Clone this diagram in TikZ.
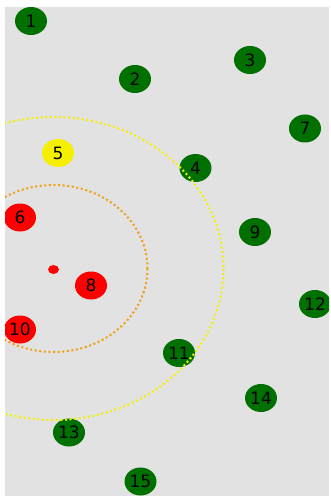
\documentclass[tikz,border=0pt]{standalone}
\usepackage{fontspec}
\setmainfont{DejaVu Sans}
\usetikzlibrary{shapes.geometric}
\definecolor{bg}{RGB}{226,226,226}
\definecolor{dgreen}{RGB}{0,112,0}
\definecolor{dred}{RGB}{255,0,0}
\definecolor{dyel}{RGB}{245,240,0}
\definecolor{dorange}{RGB}{240,160,20}
\tikzset{
  pt/.style={ellipse, minimum width=32pt, minimum height=28pt, inner sep=0pt,
    font=\fontsize{17}{20}\selectfont, text=black},
  gpt/.style={pt, fill=dgreen},
  rpt/.style={pt, fill=dred},
  ypt/.style={pt, fill=dyel},
  ring/.style={line width=2pt, dash pattern=on 2pt off 2.6pt},
}
\begin{document}
\begin{tikzpicture}[x=1pt,y=-1pt]
\useasboundingbox (0,0) rectangle (331,497);
\fill[white] (0,0) rectangle (331,497);
\fill[bg] (5,7) rectangle (329,496);
\begin{scope}
\clip (5,7) rectangle (329,496);
\draw[ring, dorange] (53.5,268.5) ellipse [x radius=94, y radius=83.5];
\node[rpt] (c) at (53.5,269.5) [minimum width=11pt, minimum height=9pt] {};
\node[gpt] (n1) at (31,21) {1};
\node[gpt] (n2) at (135,79) {2};
\node[gpt] (n3) at (250,60) {3};
\node[gpt] (n4) at (195.5,168) {4};
\node[ypt] (n5) at (58,153) {5};
\node[rpt] (n6) at (20,217.5) {6};
\node[gpt] (n7) at (305,128.5) {7};
\node[rpt] (n8) at (91,285.5) {8};
\node[gpt] (n9) at (255,232) {9};
\node[rpt] (n10) at (20,329.5) {10};
\node[gpt] (n11) at (179,353) {11};
\node[gpt] (n12) at (315,304) {12};
\node[gpt] (n13) at (69,432.5) {13};
\node[gpt] (n14) at (261,398) {14};
\node[gpt] (n15) at (140.5,481.5) {15};
\draw[ring, dyel] (53.5,268.5) ellipse [x radius=170, y radius=151.5];
\end{scope}
\end{tikzpicture}
\end{document}
